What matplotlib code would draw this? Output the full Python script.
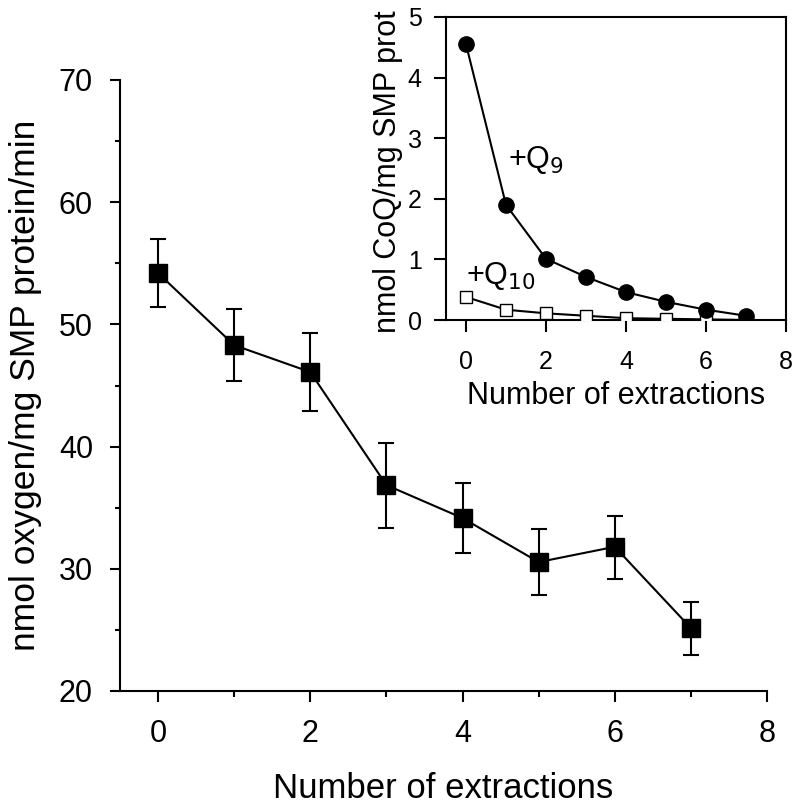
import matplotlib
matplotlib.use("Agg")
import matplotlib.pyplot as plt
import numpy as np

plt.rcParams['font.family'] = ['Liberation Sans', 'DejaVu Sans']

# Main panel data
extractions = [0, 1, 2, 3, 4, 5, 6, 7]
oxygen_rate = [54.2, 48.3, 46.1, 36.85, 34.15, 30.55, 31.8, 25.15]
err_upper = [2.8, 3.0, 3.2, 3.45, 2.85, 2.7, 2.5, 2.15]
err_lower = [2.8, 2.9, 3.2, 3.55, 2.85, 2.7, 2.65, 2.2]

# Inset data
q9_content = [4.55, 1.90, 1.01, 0.71, 0.46, 0.30, 0.17, 0.07]
q10_content = [0.38, 0.17, 0.11, 0.07, 0.03, 0.02, 0.01, 0.0]

W, H = 800, 809
fig = plt.figure(figsize=(W / 100, H / 100), dpi=100)

# ---- main axes ----
ax = fig.add_axes([120 / W, (H - 691) / H, 647 / W, 611 / H])
ax.errorbar(extractions, oxygen_rate, yerr=[err_lower, err_upper],
            color='black', lw=1.5, marker='s', ms=13, mfc='black', mec='black',
            ecolor='black', elinewidth=1.5, capsize=6, capthick=1.5, zorder=3)
ax.set_xlim(-0.5, 8)
ax.set_ylim(20, 70)
ax.spines['top'].set_visible(False)
ax.spines['right'].set_visible(False)
for s in ['left', 'bottom']:
    ax.spines[s].set_linewidth(1.5)
ax.set_xticks([0, 2, 4, 6, 8])
ax.set_xticks([1, 3, 5, 7], minor=True)
ax.set_yticks([20, 30, 40, 50, 60, 70])
ax.set_yticks([25, 35, 45, 55, 65], minor=True)
ax.tick_params(which='major', length=8, width=1.5, direction='out', labelsize=22, pad=12)
ax.tick_params(which='minor', length=4.5, width=1.5, direction='out')
ax.tick_params(axis='y', which='major', length=7.5, pad=12)
ax.tick_params(axis='y', which='minor', length=3.8)
ax.set_xlabel('Number of extractions', fontsize=25, labelpad=17)
ax.set_ylabel('nmol oxygen/mg SMP protein/min', fontsize=25.5, labelpad=12)

# ---- inset axes ----
axi = fig.add_axes([446 / W, (H - 320) / H, 340 / W, 303 / H])
axi.plot(extractions, q10_content, color='black', lw=1.5, marker='s', ms=9,
         mfc='white', mec='black', mew=1.0, zorder=3)
axi.plot(extractions, q9_content, color='black', lw=1.5, marker='o', ms=11,
         mfc='black', mec='black', zorder=4)
axi.set_xlim(-0.5, 8)
axi.set_ylim(0, 5)
for s in axi.spines.values():
    s.set_linewidth(1.5)
axi.set_xticks([0, 2, 4, 6, 8])
axi.set_yticks([0, 1, 2, 3, 4, 5])
axi.tick_params(length=8.6, width=1.5, direction='out', labelsize=18)
axi.tick_params(axis='x', pad=13)
axi.tick_params(axis='y', pad=9)
axi.set_xlabel('Number of extractions', fontsize=22, labelpad=5)
axi.text(1.05, 2.64, '+Q$_9$', fontsize=22, ha='left', va='center')
axi.text(0.0, 0.72, '+Q$_{10}$', fontsize=22, ha='left', va='center')
fig.text(388 / W, (H - 333) / H, 'nmol CoQ/mg SMP prot', rotation=90,
         fontsize=22, ha='center', va='bottom')

fig.savefig('out.png', dpi=100)
